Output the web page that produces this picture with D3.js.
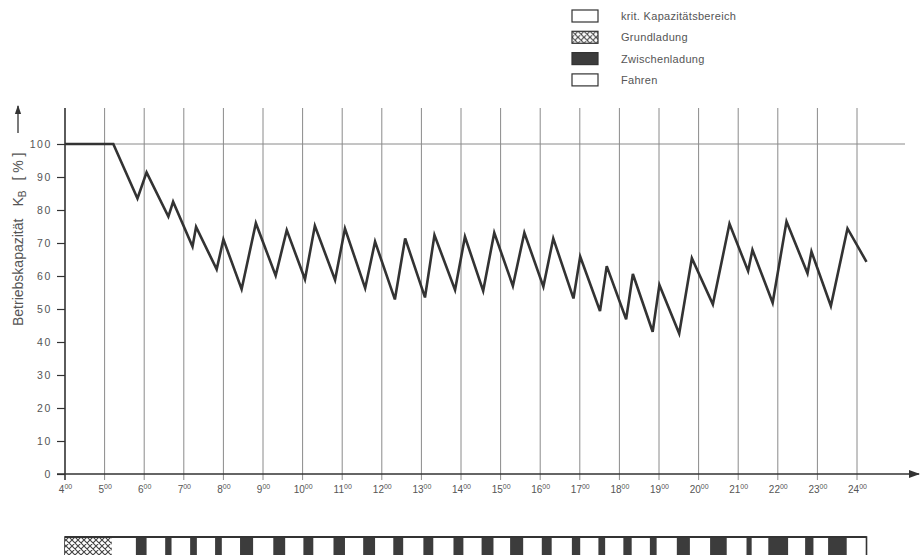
<!DOCTYPE html>
<html><head><meta charset="utf-8">
<script src="https://cdn.jsdelivr.net/npm/d3@7/dist/d3.min.js"></script>
<style>
body{margin:0;background:#fff;}
svg{display:block;font-family:"Liberation Sans","DejaVu Sans",sans-serif;}
</style></head>
<body><svg id="c" width="922" height="555"></svg>
<script>
// ---- data ----
const hourTicks = [4,5,6,7,8,9,10,11,12,13,14,15,16,17,18,19,20,21,22,23,24];
const yTicks = [0,10,20,30,40,50,60,70,80,90,100];
const timeH = [4.0,5.22,5.83,6.06,6.61,6.73,7.22,7.31,7.83,8.00,8.46,8.82,9.32,9.60,10.06,10.31,10.82,11.07,11.58,11.83,12.33,12.59,13.09,13.33,13.85,14.10,14.56,14.84,15.31,15.60,16.08,16.33,16.84,17.01,17.51,17.68,18.17,18.34,18.84,19.01,19.51,19.83,20.36,20.78,21.25,21.36,21.87,22.22,22.75,22.85,23.34,23.76,24.24];
const capacity = [100,100,83.5,91.4,78.0,82.5,68.9,74.9,62.0,71.1,56.0,76.0,60.1,73.9,59.0,75.2,58.8,74.4,56.3,70.4,52.9,71.4,53.5,72.4,55.8,71.9,55.5,73.1,57.0,73.1,56.8,71.4,53.2,65.9,49.4,63.0,46.9,60.6,43.1,57.3,42.6,65.4,51.4,75.8,61.5,67.9,51.9,76.5,60.8,67.4,50.9,74.4,64.3];
const grundladung = [4.0, 5.18];
const chargeStart = [5.79,6.53,7.16,7.79,8.42,9.26,10.02,10.78,11.53,12.29,13.05,13.81,14.52,15.24,16.04,16.80,17.47,18.10,18.77,19.45,20.29,21.21,21.76,22.69,23.27];
const chargeEnd   = [6.06,6.69,7.33,7.96,8.75,9.56,10.27,11.07,11.83,12.54,13.30,14.06,14.82,15.57,16.29,17.01,17.64,18.31,18.94,19.78,20.71,21.34,22.26,22.90,23.74];
const barEnd = 24.24;
const legendLabels = ["krit. Kapazitätsbereich","Grundladung","Zwischenladung","Fahren"];
const legendKinds = ["empty","hatch","dark","empty"];

// ---- drawing ----
const svg = d3.select("#c");
const x = d3.scaleLinear().domain([4,24]).range([65,857]);
const y = d3.scaleLinear().domain([0,100]).range([474,144]);
const ink = "#333", grid = "#8a8a8a", txt = "#555";

const defs = svg.append("defs");
const pat = defs.append("pattern").attr("id","xh").attr("patternUnits","userSpaceOnUse")
  .attr("width",6).attr("height",6);
pat.append("rect").attr("width",6).attr("height",6).attr("fill","#fff");
pat.append("path").attr("d","M0,0L6,6M6,0L0,6M-1,5L1,7M5,-1L7,1").attr("stroke","#444").attr("stroke-width",1.1);
defs.append("marker").attr("id","arr").attr("viewBox","0 0 10 10").attr("refX",9).attr("refY",5)
  .attr("markerWidth",7).attr("markerHeight",7).attr("orient","auto-start-reverse")
  .append("path").attr("d","M0,1.5L10,5L0,8.5Z").attr("fill",ink);

// vertical grid lines
svg.append("g").selectAll("line").data(hourTicks.slice(1)).join("line")
  .attr("x1",d=>x(d)).attr("x2",d=>x(d)).attr("y1",108).attr("y2",480)
  .attr("stroke",grid).attr("stroke-width",1);
// 100% line
svg.append("line").attr("x1",x(4)).attr("x2",905).attr("y1",y(100)).attr("y2",y(100))
  .attr("stroke",grid).attr("stroke-width",1);

// y axis
const ya = svg.append("g").attr("transform",`translate(${x(4)},0)`)
  .call(d3.axisLeft(y).tickValues(yTicks).tickSize(8).tickPadding(5));
ya.select(".domain").remove();
ya.selectAll(".tick line").attr("stroke",ink).attr("stroke-width",1.2);
ya.selectAll(".tick text").attr("fill",txt).attr("font-size",10.5).attr("letter-spacing","1.6px")
  .attr("font-family","'Liberation Sans',sans-serif");
svg.append("line").attr("x1",x(4)).attr("x2",x(4)).attr("y1",108).attr("y2",480)
  .attr("stroke",ink).attr("stroke-width",1.6);

// x axis
const xa = svg.append("g").attr("transform",`translate(0,${y(0)})`)
  .call(d3.axisBottom(x).tickValues(hourTicks).tickSize(0).tickPadding(12).tickFormat(""));
xa.select(".domain").remove();
xa.selectAll(".tick text").each(function(d){
  const t = d3.select(this).attr("fill",txt).attr("font-size",10).attr("text-anchor","middle");
  t.append("tspan").text(d);
  t.append("tspan").attr("font-size",7).attr("dy",-4).text("00");
});
svg.append("line").attr("x1",57).attr("x2",919).attr("y1",y(0)).attr("y2",y(0))
  .attr("stroke",ink).attr("stroke-width",1.6).attr("marker-end","url(#arr)");

// capacity line
svg.append("path").datum(d3.zip(timeH,capacity))
  .attr("d",d3.line().x(d=>x(d[0])).y(d=>y(d[1])))
  .attr("fill","none").attr("stroke",ink).attr("stroke-width",2.6).attr("stroke-linejoin","miter");

// y label
const yl = svg.append("text").attr("transform","translate(23,326) rotate(-90)")
  .attr("fill",txt).attr("font-size",14);
yl.append("tspan").text("Betriebskapazität");
yl.append("tspan").attr("dx",12).text("K");
yl.append("tspan").attr("font-size",10).attr("dy",3).text("B");
yl.append("tspan").attr("dx",10).attr("dy",-3).text("[ % ]");
svg.append("line").attr("x1",18).attr("x2",18).attr("y1",133).attr("y2",106)
  .attr("stroke",ink).attr("stroke-width",1.3).attr("marker-end","url(#arr)");

// bottom bar
const barY = 537, barH = 26;
svg.append("rect").attr("x",x(4)).attr("y",barY).attr("width",x(barEnd)-x(4)).attr("height",barH)
  .attr("fill","#fff").attr("stroke",ink).attr("stroke-width",1.6);
svg.append("rect").attr("x",x(grundladung[0])).attr("y",barY).attr("width",x(grundladung[1])-x(grundladung[0]))
  .attr("height",barH).attr("fill","url(#xh)");
svg.append("g").selectAll("rect").data(d3.zip(chargeStart,chargeEnd)).join("rect")
  .attr("x",d=>x(d[0])).attr("width",d=>x(d[1])-x(d[0])).attr("y",barY).attr("height",barH)
  .attr("fill","#3c3c3c");
svg.append("line").attr("x1",x(4)).attr("x2",x(barEnd)).attr("y1",barY).attr("y2",barY)
  .attr("stroke",ink).attr("stroke-width",2);

// legend
const lg = svg.append("g").selectAll("g").data(legendLabels).join("g")
  .attr("transform",(d,i)=>`translate(572,${10+i*21.3})`);
lg.append("rect").attr("width",26).attr("height",12)
  .attr("fill",(d,i)=>legendKinds[i]==="hatch"?"url(#xh)":legendKinds[i]==="dark"?"#3c3c3c":"#fff")
  .attr("stroke",ink).attr("stroke-width",1.2);
lg.append("text").attr("x",49).attr("y",10).attr("fill",txt).attr("font-size",11)
  .attr("letter-spacing","0.3px").text(d=>d);
</script></body></html>
